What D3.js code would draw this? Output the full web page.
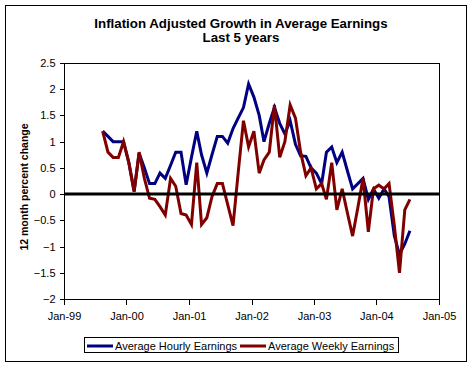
<!DOCTYPE html>
<html>
<head>
<meta charset="utf-8">
<script src="https://cdn.jsdelivr.net/npm/d3@7"></script>
<style>
  body { margin: 0; background: #fff; }
  svg { display: block; font-family: Arial, "Liberation Sans", sans-serif; }
</style>
</head>
<body>
<svg id="chart"></svg>
<script>
// data: monthly 12-month % change, Aug-99 .. Jul-04
const firstMonth = new Date(1999, 7, 1);
const hourly = [
  1.2, 1.1, 1.0, 1.0, 1.0, 0.6, 0.05, 0.78, 0.5, 0.2,
  0.2, 0.4, 0.3, 0.55, 0.8, 0.8, 0.18, 0.7, 1.2, 0.75,
  0.4, 0.75, 1.1, 1.1, 0.97, 1.25, 1.45, 1.65, 2.1, 1.85,
  1.5, 1.0, 1.35, 1.65, 1.35, 1.15, 1.4, 0.95, 0.73, 0.72,
  0.5, 0.4, 0.2, 0.8, 0.9, 0.6, 0.8, 0.45, 0.1, 0.2,
  0.3, -0.1, 0.1, -0.08, 0.1, -0.05, -0.8, -1.15, -0.95, -0.7
];
const weekly = [
  1.2, 0.8, 0.7, 0.7, 1.0, 0.6, 0.05, 0.8, 0.3, -0.08,
  -0.1, -0.24, -0.4, 0.3, 0.15, -0.37, -0.4, -0.58, 0.6, -0.58,
  -0.45, -0.05, 0.2, 0.2, -0.2, -0.6, 0.4, 1.4, 0.9, 1.2,
  0.4, 0.65, 0.8, 1.7, 0.7, 1.0, 1.7, 1.45, 0.8, 0.35,
  0.5, 0.1, 0.2, -0.1, 0.6, -0.3, 0.1, -0.35, -0.8, -0.25,
  0.3, -0.72, 0.1, 0.17, 0.1, 0.2, -0.6, -1.5, -0.3, -0.1
];
const seriesNames = ["Average Hourly Earnings", "Average Weekly Earnings"];
const seriesColors = ["#000080", "#800000"];
const yTicks = [-2, -1.5, -1, -0.5, 0, 0.5, 1, 1.5, 2, 2.5];

// constants
const width = 472;
const height = 367;
const plot = { left: 64, right: 439, top: 63, bottom: 299 };

const svg = d3.select('#chart')
  .attr('width', width)
  .attr('height', height);

// outer chart border
svg.append('rect')
  .attr('x', 5.5).attr('y', 5.5)
  .attr('width', 461).attr('height', 356)
  .attr('fill', '#fff')
  .attr('stroke', '#000');

// title
svg.append('text')
  .attr('x', 241).attr('y', 28)
  .attr('text-anchor', 'middle')
  .style('font-size', '13.3px').style('font-weight', 'bold')
  .text('Inflation Adjusted Growth in Average Earnings');
svg.append('text')
  .attr('x', 241).attr('y', 42)
  .attr('text-anchor', 'middle')
  .style('font-size', '13.3px').style('font-weight', 'bold')
  .text('Last 5 years');

// scales
const x = d3.scaleTime()
  .domain([new Date(1999, 0, 1), new Date(2005, 0, 1)])
  .range([plot.left, plot.right]);
const y = d3.scaleLinear()
  .domain([-2, 2.5])
  .range([plot.bottom, plot.top]);

// points sit in the middle of each month
const months = d3.timeMonth.range(firstMonth, d3.timeMonth.offset(firstMonth, hourly.length))
  .map(d => d3.timeDay.offset(d, 14));

// plot area frame
svg.append('rect')
  .attr('x', plot.left + 0.5).attr('y', plot.top + 0.5)
  .attr('width', plot.right - plot.left).attr('height', plot.bottom - plot.top)
  .attr('fill', 'none').attr('stroke', '#000');

// y axis
const yAxis = svg.append('g')
  .attr('transform', 'translate(' + (plot.left + 0.5) + ',0)')
  .call(d3.axisLeft(y).tickValues(yTicks).tickSize(5).tickPadding(4).tickFormat(d3.format('')));
yAxis.selectAll('text').style('font-size', '11px').style('font-family', 'Arial, "Liberation Sans", sans-serif');
yAxis.select('.domain').remove();
yAxis.selectAll('line').attr('shape-rendering', 'crispEdges');

// x axis
const xAxis = svg.append('g')
  .attr('transform', 'translate(0,' + (plot.bottom + 0.5) + ')')
  .call(d3.axisBottom(x).ticks(d3.timeYear.every(1)).tickSize(5).tickPadding(8).tickFormat(d3.timeFormat('%b-%y')));
xAxis.selectAll('text').style('font-size', '11px').style('font-family', 'Arial, "Liberation Sans", sans-serif');
xAxis.select('.domain').remove();
xAxis.selectAll('line').attr('shape-rendering', 'crispEdges');

// y axis label
svg.append('text')
  .attr('transform', 'translate(28,' + ((plot.top + plot.bottom) / 2 + 6) + ') rotate(-90)')
  .attr('text-anchor', 'middle')
  .style('font-size', '10.5px').style('font-weight', 'bold')
  .text('12 month percent change');

// series lines
const line = d3.line()
  .x((d, i) => x(months[i]))
  .y(d => y(d));

[hourly, weekly].forEach((s, k) => {
  svg.append('path')
    .datum(s)
    .attr('d', line)
    .attr('fill', 'none')
    .attr('stroke', seriesColors[k])
    .attr('stroke-width', 3);
});

// zero line
svg.append('line')
  .attr('x1', plot.left).attr('x2', plot.right + 1)
  .attr('y1', y(0)).attr('y2', y(0))
  .attr('stroke', '#000').attr('stroke-width', 3);

// legend
const legend = svg.append('g');
legend.append('rect')
  .attr('x', 84.5).attr('y', 337.5)
  .attr('width', 314).attr('height', 15)
  .attr('fill', '#fff').attr('stroke', '#000');
const legendX = [87, 240];
seriesNames.forEach((name, k) => {
  legend.append('line')
    .attr('x1', legendX[k]).attr('x2', legendX[k] + 26)
    .attr('y1', 346).attr('y2', 346)
    .attr('stroke', seriesColors[k]).attr('stroke-width', 3);
  legend.append('text')
    .attr('x', legendX[k] + 28).attr('y', 349.5)
    .style('font-size', '11px')
    .text(name);
});
</script>
</body>
</html>
